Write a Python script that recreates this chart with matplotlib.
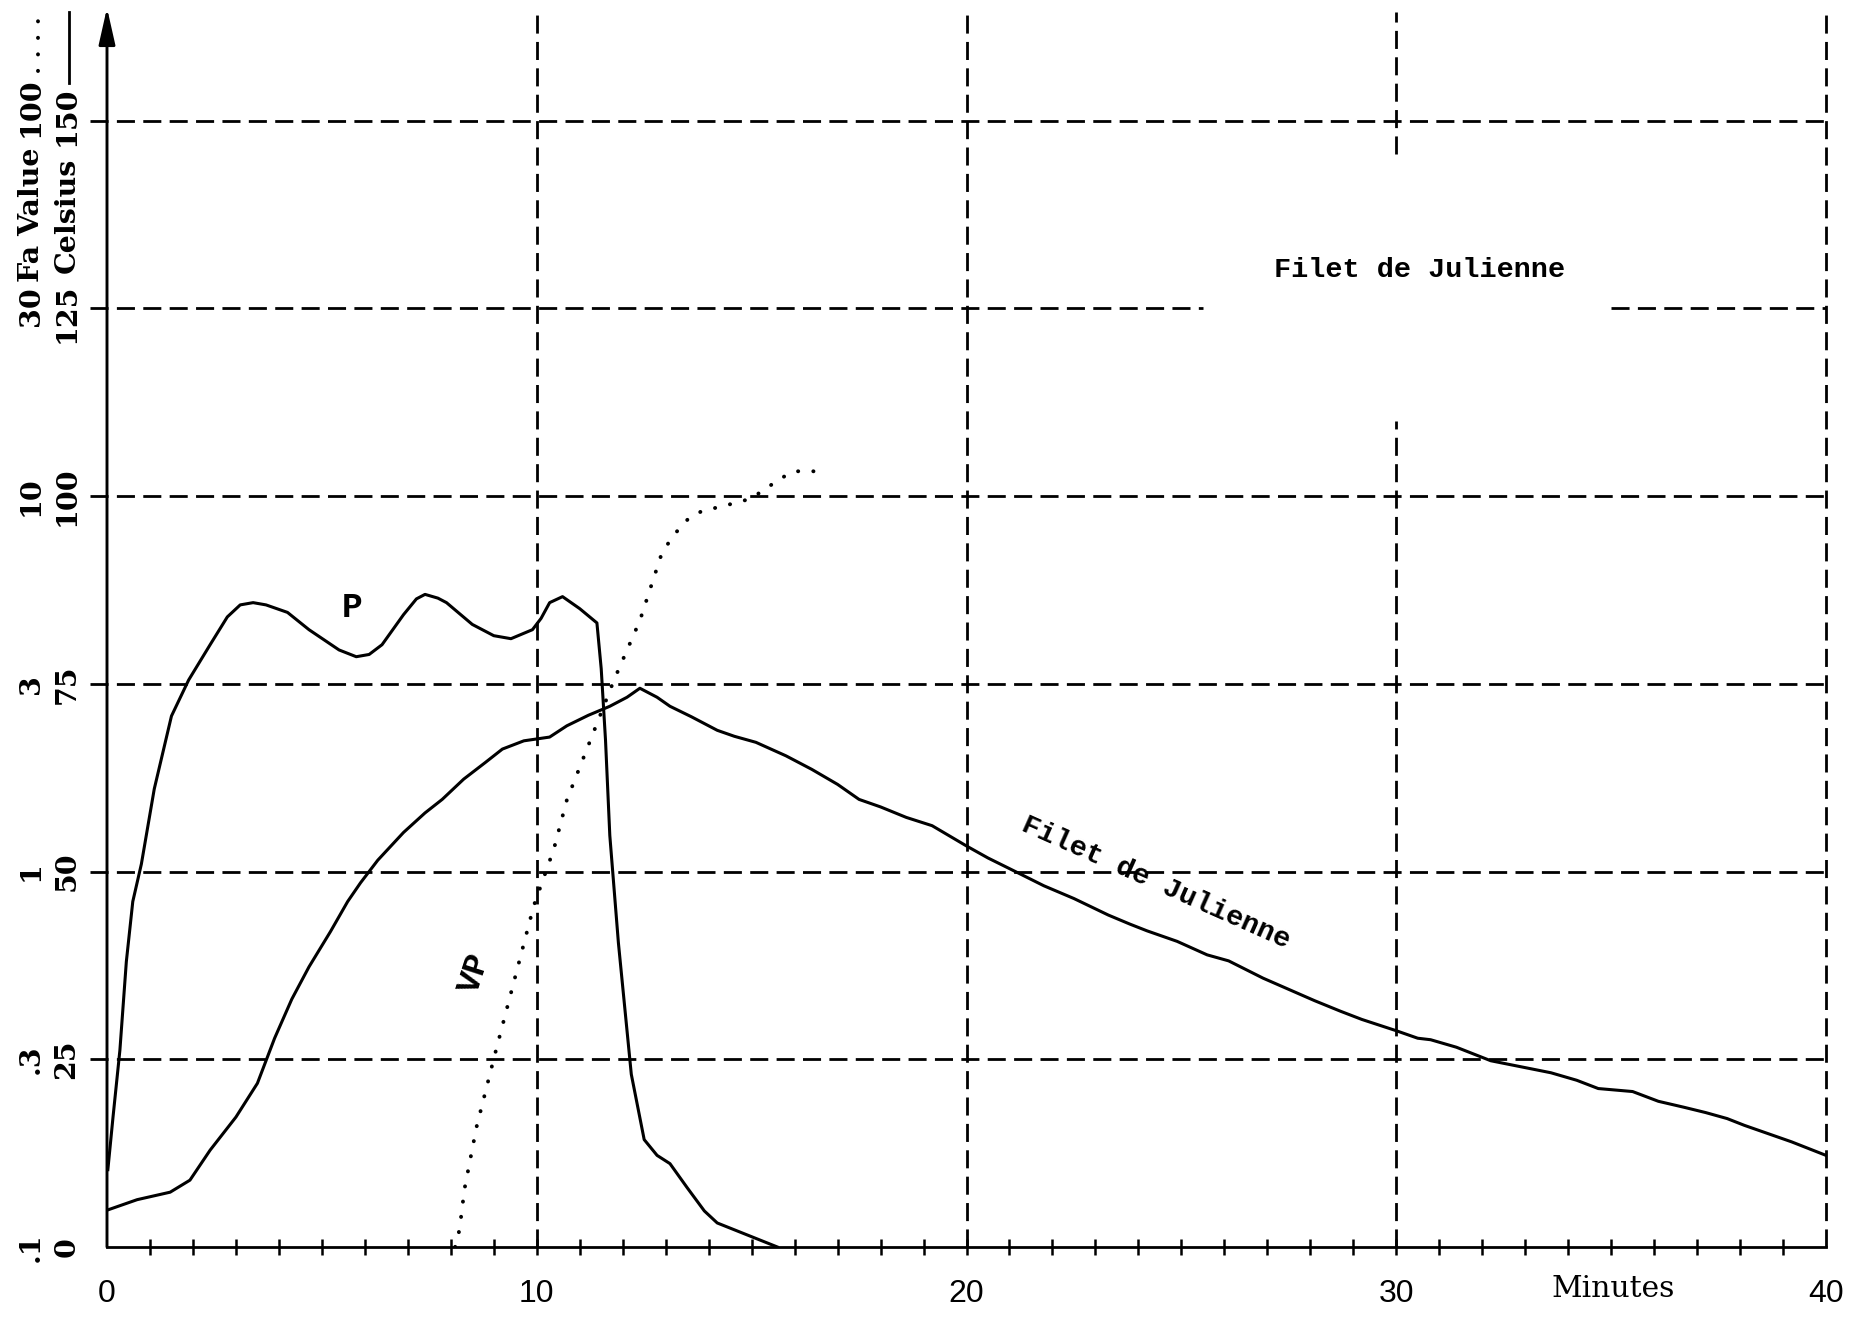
import numpy as np
import matplotlib
matplotlib.use("Agg")
import matplotlib.pyplot as plt
from matplotlib.lines import Line2D

# ---------------- data ----------------
# Product temperature (Celsius) "Filet de Julienne"
temp_t = [0, 0.7, 1.47, 1.93, 2.4, 3.0, 3.5, 3.9, 4.3, 4.7, 5.2, 5.6, 5.9, 6.3, 6.9, 7.4, 7.8, 8.3,
          8.8, 9.2, 9.7, 10.3, 10.7, 11.2, 11.7, 12.1, 12.4, 12.8, 13.1, 13.6, 14.2, 14.6, 15.1,
          15.8, 16.4, 17.0, 17.5, 18.0, 18.6, 19.2, 20, 20.5, 21.1, 21.8, 22.5, 23.3, 23.8, 24.2,
          24.9, 25.6, 26.1, 26.9, 27.5, 28.1, 28.7, 29.2, 30, 30.5, 30.8, 31.4, 32.2, 32.9, 33.6,
          34.2, 34.7, 35.5, 36.1, 36.7, 37.2, 37.7, 38.1, 38.6, 39.2, 40]
temp_c = [4.9, 6.3, 7.3, 8.9, 12.9, 17.3, 21.8, 27.8, 33, 37.3, 42, 46, 48.5, 51.5, 55.2, 57.8,
          59.6, 62.3, 64.5, 66.3, 67.4, 67.9, 69.4, 70.8, 72, 73.2, 74.4, 73.2, 72, 70.6, 68.8,
          68, 67.2, 65.4, 63.6, 61.6, 59.6, 58.6, 57.2, 56.1, 53.4, 51.8, 50.1, 48.1, 46.4, 44.2,
          43, 42.1, 40.7, 38.9, 38.1, 35.8, 34.3, 32.8, 31.4, 30.3, 28.8, 27.8, 27.6, 26.6, 24.8,
          24.0, 23.2, 22.2, 21.1, 20.7, 19.4, 18.6, 17.9, 17.1, 16.2, 15.2, 14.0, 12.2]

# P curve (on Celsius scale)
p_t = [0.02, 0.14, 0.3, 0.45, 0.6, 0.8, 1.1, 1.5, 1.9, 2.4, 2.8, 3.1, 3.4, 3.7, 4.2, 4.7, 5.4,
       5.8, 6.1, 6.4, 6.9, 7.2, 7.4, 7.7, 7.9, 8.5, 9.0, 9.4, 9.9, 10.1, 10.3, 10.6, 11.0, 11.4,
       11.5, 11.6, 11.7, 11.9, 12.2, 12.5, 12.8, 13.1, 13.5, 13.9, 14.2, 14.9, 15.6]
p_c = [10.3, 17.3, 26.2, 38, 46, 51, 61, 70.7, 75.5, 80.2, 83.9, 85.5, 85.8, 85.5, 84.5, 82.2,
       79.5, 78.6, 78.9, 80.2, 84.2, 86.3, 86.9, 86.4, 85.8, 82.9, 81.4, 81, 82.2, 83.7, 85.8,
       86.6, 85, 83.1, 77, 67.5, 54.8, 40.5, 23, 14.3, 12.2, 11.1, 7.9, 4.8, 3.2, 1.6, 0]

# VP: Fa value (log scale)
vp_t = [8.1, 8.17, 8.26, 8.31, 8.6, 9.03, 9.5, 9.93, 10.4, 10.7, 11.25, 11.8, 12.4, 12.91,
        13.15, 13.38, 13.56, 13.84, 14.43, 14.96, 15.36, 15.59, 15.96, 16.29, 16.52]
vp_f = [0.100, 0.106, 0.125, 0.141, 0.209, 0.327, 0.525, 0.81, 1.15, 1.55, 2.24, 3.24, 4.66, 7.04,
        7.76, 8.36, 8.77, 9.11, 9.46, 9.82, 10.5, 11.0, 11.6, 11.7, 11.6]

x_labels = [0, 10, 20, 30, 40]
celsius_ticks = [0, 25, 50, 75, 100]
celsius_labels = ["0", "25", "50", "75", "100"]
fa_labels = [".1", ".3", "1", "3", "10"]
h_grid = [25, 50, 75, 100, 150]
v_grid = [10, 20, 40]

# ---------------- figure ----------------
W, H = 1871, 1317
fig = plt.figure(figsize=(W / 100, H / 100), dpi=100)
YMAX = 165
ax = fig.add_axes([107 / W, 1 - 1247 / H, 1719 / W, YMAX * 7.51 / H])
ax.set_xlim(0, 40)
ax.set_ylim(0, YMAX)
for s in ["top", "right", "left"]:
    ax.spines[s].set_visible(False)
ax.spines["bottom"].set_linewidth(2.0)
ax.set_yticks([])
ax.set_xticks(range(1, 40))
ax.set_xticklabels([])
ax.tick_params(axis="x", direction="inout", length=11, width=1.8)

serif = "DejaVu Serif"
dash = (0, (6.5, 3.0))
LW = 2.0

# dashed grid
for y in h_grid:
    ax.plot([-0.4, 40], [y, y], color="k", lw=LW, ls=dash, clip_on=False)
ax.plot([-0.4, 25.5], [125, 125], color="k", lw=LW, ls=dash, clip_on=False)
ax.plot([35.0, 40], [125, 125], color="k", lw=LW, ls=dash, clip_on=False)
for x in v_grid:
    ax.plot([x, x], [0, YMAX - 0.5], color="k", lw=LW, ls=dash, clip_on=False)
ax.plot([30, 30], [0, 110], color="k", lw=LW, ls=dash, clip_on=False)
ax.plot([30, 30], [145.5, YMAX - 0.5], color="k", lw=LW, ls=dash, clip_on=False)

# y axis with arrow
ax.annotate("", xy=(0, YMAX), xytext=(0, 0), xycoords="data",
            arrowprops=dict(arrowstyle="-|>,head_length=0.8,head_width=0.18", color="k",
                            lw=2.1, mutation_scale=28, shrinkA=0, shrinkB=0),
            annotation_clip=False)

# curves
ax.plot(temp_t, temp_c, color="k", lw=2.2, solid_joinstyle="round")
ax.plot(p_t, p_c, color="k", lw=2.2, solid_joinstyle="round")

ax2 = ax.twinx()
ax2.set_yscale("log")
ax2.set_ylim(0.1, 10 ** (YMAX / 50 - 1))
ax2.yaxis.set_visible(False)
for s in ax2.spines.values():
    s.set_visible(False)
ax2.plot(vp_t, vp_f, color="k", lw=2.8, ls=(0, (0.05, 3.9)), dash_capstyle="round")

# annotations in the plot
mono = "Liberation Mono"
ax.text(30.55, 130.1, "Filet de Julienne", fontsize=20.5, family=mono,
        weight="bold", ha="center", va="center")
ax.text(24.4, 48.5, "Filet de Julienne", fontsize=20.5, family=mono,
        weight="bold", ha="center", va="center", rotation=-24, rotation_mode="anchor")
ax.text(5.7, 85.1, "P", fontsize=25, family=mono, weight="bold",
        ha="center", va="center")
ax.text(8.56, 36.5, "VP", fontsize=24, family=mono, weight="bold",
        ha="center", va="center", rotation=72)

# x tick labels
for x in x_labels:
    ax.text(x, -6.3, str(x), fontsize=23, family="Liberation Sans", ha="center",
            va="center", clip_on=False)
ax.text(35.04, -5.6, "Minutes", fontsize=21.5, family=serif, ha="center", va="center",
        clip_on=False)

# y labels: two rotated columns
XL, XR = -1.76, -0.93
ykw = dict(fontsize=20.5, family=serif, weight="bold", rotation=90, ha="center",
           va="center", clip_on=False)
for y, lab in zip(celsius_ticks, fa_labels):
    ax.text(XL, y, lab, **ykw)
for y, lab in zip(celsius_ticks, celsius_labels):
    ax.text(XR, y, lab, **ykw)
ax.text(XL, 125.3, "30", **ykw)
ax.text(XL, 137.5, "Fa Value", **ykw)
ax.text(XL, 151.8, "100", **ykw)
ax.text(XR, 124.3, "125", **ykw)
ax.text(XR, 137.4, "Celsius", **ykw)
ax.text(XR, 150.6, "150", **ykw)

# legend keys next to the axis labels
ax.add_line(Line2D([XL + 0.15, XL + 0.15], [156.6, 164.5], color="k", lw=2.8,
                   ls=(0, (0.05, 4.2)), dash_capstyle="round", clip_on=False))
ax.add_line(Line2D([XR + 0.05, XR + 0.05], [155.0, 164.5], color="k", lw=2.0, clip_on=False))

fig.savefig("out.png", dpi=100, facecolor="white")
